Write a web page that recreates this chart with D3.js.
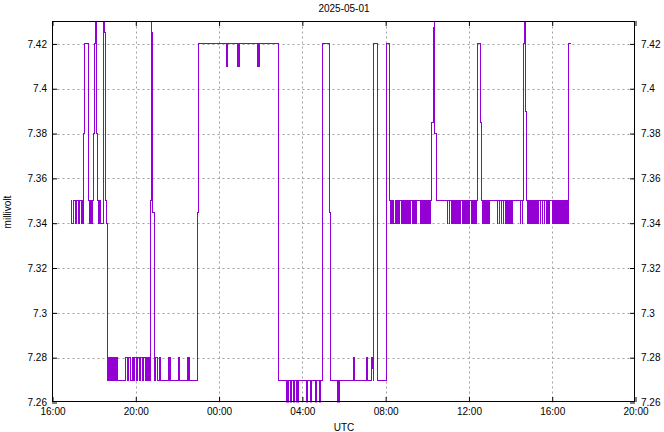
<!DOCTYPE html>
<html>
<head>
<meta charset="utf-8">
<script src="https://cdn.jsdelivr.net/npm/d3@7"></script>
<style>
  html, body { margin: 0; padding: 0; background: #fff; }
  svg { display: block; }
  text { font-family: "Liberation Sans", Arial, sans-serif; font-size: 10px; fill: #000; }
</style>
</head>
<body>
<script>
// ---------- data ----------
const chartTitle = "2025-05-01";
const yAxisTitle = "millivolt";
const xAxisTitle = "UTC";
const startDay = "2025-05-01";
const xDomain = ["2025-05-01T16:00:00Z", "2025-05-02T20:00:00Z"];
const xTickTimes = ["2025-05-01T16:00:00Z","2025-05-01T20:00:00Z","2025-05-02T00:00:00Z","2025-05-02T04:00:00Z","2025-05-02T08:00:00Z","2025-05-02T12:00:00Z","2025-05-02T16:00:00Z","2025-05-02T20:00:00Z"];
const yDomain = [7.26, 7.43];
const yTickLabels = ["7.26","7.28","7.3","7.32","7.34","7.36","7.38","7.4","7.42"];

// readings: [HH:MM UTC, millivolt]; the day rolls over when the clock wraps
const eveningReadings = [
  ["16:52",7.35],["16:56",7.34],["17:01",7.35],["17:05",7.34],["17:10",7.35],["17:14",7.34],["17:19",7.35],["17:23",7.34],
  ["17:26",7.35],["17:28",7.34],["17:30",7.38],["17:33",7.42],
  ["17:43",7.35],["17:46",7.34],["17:49",7.35],["17:53",7.34],["17:55",7.35],["17:57",7.38],["18:01",7.42],
  ["18:03",7.43],["18:07",7.38],["18:10",7.35],["18:13",7.34],["18:15",7.35],["18:17",7.34],["18:26",7.43],["18:29",7.425],
  ["18:34",7.35],["18:36",7.34],["18:38",7.27],["18:41",7.28],["18:44",7.27],["18:47",7.28],["18:50",7.27],["18:53",7.28],
  ["18:56",7.27],["18:59",7.28],["19:02",7.27],["19:04",7.28],["19:07",7.27],["19:30",7.28],
  ["19:35",7.27],["19:40",7.28],["19:45",7.27],["19:50",7.28],["19:53",7.27],["19:57",7.28],["20:02",7.27],["20:06",7.28],
  ["20:10",7.27],["20:14",7.28],["20:18",7.27],["20:23",7.28],["20:27",7.27],["20:31",7.28],["20:35",7.27],["20:37",7.28],
  ["20:40",7.27],["20:41",7.35],["20:44",7.43],["20:46",7.425],["20:49",7.345],["20:53",7.27],["20:57",7.28],["21:02",7.27],
  ["21:09",7.28],["21:11",7.27],["21:33",7.28],["21:35",7.27],["21:38",7.28],["21:41",7.27],
  ["22:04",7.28],["22:06",7.27],["22:28",7.28],["22:30",7.27],["22:33",7.28],["22:36",7.27],["22:57",7.345],["23:00",7.42]
];
const nightReadings = [
  ["00:20",7.41],["00:23",7.42],["00:52",7.41],["00:54",7.42],["00:56",7.41],["00:58",7.42],["01:52",7.41],["01:54",7.42],
  ["01:56",7.41],["01:57",7.42],["02:52",7.27],["03:13",7.26],["03:15",7.27],["03:17",7.26],["03:21",7.27],["03:26",7.26],
  ["03:28",7.27],["03:34",7.26],["03:37",7.27],["03:42",7.26],["03:44",7.27],["03:46",7.26],["03:48",7.27],["04:12",7.26],
  ["04:16",7.27],["04:23",7.26],["04:25",7.27],["04:38",7.26],["04:40",7.27],["04:49",7.26],["04:52",7.27],["04:57",7.345],
  ["04:59",7.42],["05:18",7.345],["05:22",7.27],["05:40",7.26],["05:42",7.27],["05:44",7.26],["05:47",7.27],["06:28",7.28],
  ["06:29",7.275],["06:31",7.27],["07:05",7.28],["07:07",7.275],["07:09",7.27],["07:19",7.28],["07:21",7.275],["07:23",7.28],
  ["07:24",7.27],["07:26",7.42],["07:36",7.345],["07:37",7.27],["08:02",7.42]
];
const morningReadings = [
  ["08:12",7.35],["08:14",7.34],["08:17",7.35],["08:19",7.34],["08:22",7.35],["08:24",7.34],["08:27",7.35],["08:29",7.34],
  ["08:31",7.35],["08:33",7.34],["08:36",7.35],["08:38",7.34],["08:41",7.35],["08:46",7.34],["08:48",7.35],["08:52",7.34],
  ["08:54",7.35],["08:57",7.34],["08:59",7.35],["09:02",7.34],["09:04",7.35],["09:07",7.34],["09:08",7.35],["09:11",7.34],
  ["09:13",7.35],["09:16",7.34],["09:18",7.35],["09:21",7.34],["09:23",7.35],["09:26",7.34],["09:28",7.35],["09:40",7.34],
  ["09:42",7.35],["09:45",7.34],["09:47",7.35],["09:50",7.34],["09:52",7.35],["09:56",7.34],["09:58",7.35],["10:01",7.34],
  ["10:03",7.35],["10:06",7.34],["10:08",7.35],["10:12",7.385],
  ["10:17",7.42],["10:19",7.4275],["10:20",7.43],["10:22",7.38],["10:26",7.35],
  ["10:57",7.34],["10:59",7.35],["11:03",7.34],["11:05",7.35],["11:10",7.34],["11:12",7.35],["11:16",7.34],["11:18",7.35],
  ["11:22",7.34],["11:24",7.35],["11:28",7.34],["11:30",7.35],["11:34",7.34],["11:36",7.35],["11:41",7.34],["11:43",7.35],
  ["11:46",7.34],["11:48",7.35],["11:51",7.34],["11:53",7.35],["11:56",7.34],["11:58",7.35],["12:01",7.34],["12:03",7.35],
  ["12:08",7.34],["12:10",7.35],["12:14",7.34],["12:16",7.35],["12:20",7.34],["12:22",7.35],["12:25",7.42],["12:33",7.385]
];
const afternoonReadings = [
  ["12:36",7.35],["12:39",7.34],["12:41",7.35],["12:45",7.34],["12:47",7.35],["12:51",7.34],["12:53",7.35],["12:57",7.34],
  ["12:59",7.35],["13:21",7.34],["13:23",7.35],["13:27",7.34],["13:29",7.35],["13:33",7.34],["13:35",7.35],["13:39",7.34],
  ["13:41",7.35],["13:45",7.34],["13:47",7.35],["13:51",7.34],["13:53",7.35],["13:57",7.34],["13:59",7.35],["14:03",7.34],
  ["14:05",7.35],["14:28",7.34],["14:30",7.35],["14:33",7.34],["14:35",7.35],["14:38",7.42],["14:41",7.43],["14:44",7.39],
  ["14:46",7.35],["14:49",7.34],["14:51",7.35],["14:55",7.34],["14:57",7.35],["15:01",7.34],["15:03",7.35],["15:07",7.34],
  ["15:09",7.35],["15:13",7.34],["15:15",7.35],["15:19",7.34],["15:21",7.35],["15:25",7.34],["15:27",7.35],["15:31",7.34],
  ["15:33",7.35],["15:37",7.34],["15:39",7.35],["15:43",7.34],["15:45",7.35],["15:49",7.34],["15:51",7.35],["16:02",7.34],
  ["16:04",7.35],["16:07",7.34],["16:09",7.35],["16:12",7.34],["16:14",7.35],["16:17",7.34],["16:19",7.35],["16:22",7.34],
  ["16:24",7.35],["16:27",7.34],["16:29",7.35],["16:32",7.34],["16:34",7.35],["16:37",7.34],["16:39",7.35],["16:42",7.34],
  ["16:44",7.35],["16:46",7.34],["16:48",7.42],["16:53",7.42]
];

// ---------- build time series ----------
const allReadings = [].concat(eveningReadings, nightReadings, morningReadings, afternoonReadings);
const series = [];
{
  let day = new Date(startDay + "T00:00:00Z").getTime();
  let prevMin = -1;
  for (const [hm, v] of allReadings) {
    const [h, m] = hm.split(":").map(Number);
    const mins = h * 60 + m;
    if (mins < prevMin) day += 24 * 3600 * 1000;
    prevMin = mins;
    series.push({ t: new Date(day + mins * 60000), v: v });
  }
}

// ---------- layout ----------
const W = 664, H = 432;
const L = 52.5, R = 635.5, T = 21.5, B = 402.5;

const svg = d3.select("body").append("svg").attr("width", W).attr("height", H);

const x = d3.scaleUtc().domain(xDomain.map(s => new Date(s))).range([L, R]);
const y = d3.scaleLinear().domain(yDomain).range([B, T]);
const yTicks = yTickLabels.map(Number);
const xTicks = xTickTimes.map(s => new Date(s));
const fmt = d3.utcFormat("%H:%M");

// grid
const grid = svg.append("g").attr("stroke", "#a0a0a0").attr("stroke-width", 1).attr("stroke-dasharray", "2,3");
grid.selectAll("line.h").data(yTicks.filter(v => v > yDomain[0] && v < yDomain[1])).join("line")
  .attr("x1", L).attr("x2", R).attr("y1", d => Math.round(y(d)) + 0.5).attr("y2", d => Math.round(y(d)) + 0.5);
grid.selectAll("line.v").data(xTicks.slice(1, -1)).join("line")
  .attr("y1", T).attr("y2", B).attr("x1", d => Math.round(x(d)) + 0.5).attr("x2", d => Math.round(x(d)) + 0.5);

// data line
svg.append("clipPath").attr("id", "clip").append("rect").attr("x", L).attr("y", T).attr("width", R - L).attr("height", B - T);
const line = d3.line().x(d => x(d.t)).y(d => y(d.v)).curve(d3.curveStepAfter);
svg.append("path").datum(series).attr("clip-path", "url(#clip)")
  .attr("fill", "none").attr("stroke", "#9400d3").attr("stroke-width", 1)
  .attr("shape-rendering", "crispEdges").attr("d", line);

// axes (ticks inward, mirrored)
const tickLen = 5;
const axisLeft = d3.axisLeft(y).tickValues(yTicks).tickSize(-tickLen).tickPadding(5).tickFormat((d, i) => yTickLabels[i]);
const axisRight = d3.axisRight(y).tickValues(yTicks).tickSize(-tickLen).tickPadding(6).tickFormat((d, i) => yTickLabels[i]);
const axisBottom = d3.axisBottom(x).tickValues(xTicks).tickSize(-tickLen).tickPadding(6).tickFormat(fmt);
const axisTop = d3.axisTop(x).tickValues(xTicks).tickSize(-tickLen).tickFormat("");

function style(g) {
  g.select(".domain").remove();
  g.selectAll(".tick line").attr("stroke", "#000");
  g.selectAll("text").attr("font-family", null).attr("font-size", null).attr("fill", "#000");
}
svg.append("g").attr("transform", `translate(${L - 0.5},0)`).call(axisLeft).call(style);
svg.append("g").attr("transform", `translate(${R - 0.5},0)`).call(axisRight).call(style);
svg.append("g").attr("transform", `translate(0,${B - 0.5})`).call(axisBottom).call(style);
svg.append("g").attr("transform", `translate(0,${T - 0.5})`).call(axisTop).call(style);

// frame
svg.append("rect").attr("x", L).attr("y", T).attr("width", R - L - 1).attr("height", B - T - 1)
  .attr("fill", "none").attr("stroke", "#000").attr("stroke-width", 1);

// titles
svg.append("text").attr("x", (L + R) / 2).attr("y", 12).attr("text-anchor", "middle").text(chartTitle);
svg.append("text").attr("x", (L + R) / 2).attr("y", 431).attr("text-anchor", "middle").text(xAxisTitle);
svg.append("text").attr("transform", `translate(11,${(T + B) / 2}) rotate(-90)`).attr("text-anchor", "middle").text(yAxisTitle);
</script>
</body>
</html>
